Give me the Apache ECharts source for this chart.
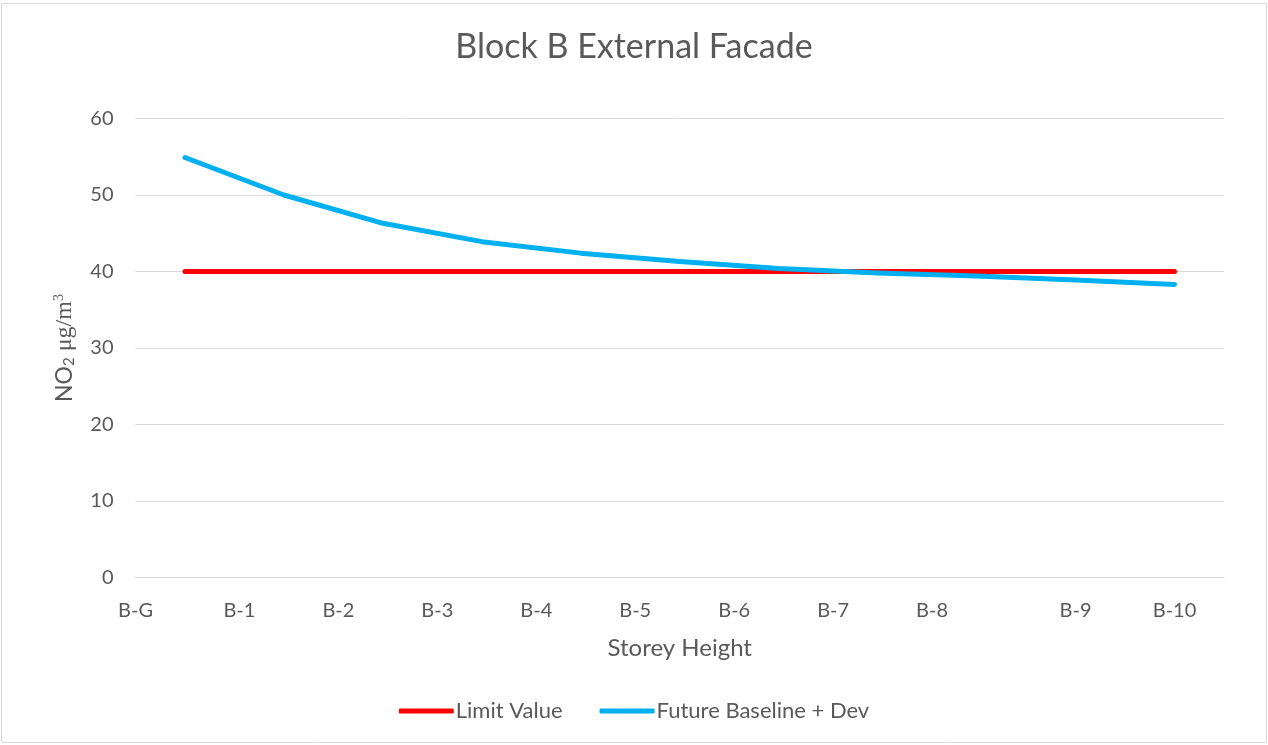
<!DOCTYPE html>
<html>
<head>
<meta charset="utf-8">
<title>Block B External Facade</title>
<script src="https://cdn.jsdelivr.net/npm/echarts@6/dist/echarts.min.js"></script>
<style>
  html, body { margin: 0; padding: 0; background: #ffffff; }
  #chart { width: 1268px; height: 745px; }
</style>
</head>
<body>
<div id="chart"></div>
<script>
// Storey tick labels and where each sits along the x axis
const storeyLabels = ['B-G', 'B-1', 'B-2', 'B-3', 'B-4', 'B-5', 'B-6', 'B-7', 'B-8', 'B-9', 'B-10'];
const storeyLabelAt = [-0.5, 0.55, 1.55, 2.55, 3.55, 4.55, 5.55, 6.55, 7.55, 9, 10];

// Measurement points (x positions) and NO2 concentrations (µg/m³)
const pointIndex = [0, 1, 2, 3, 4, 5, 6, 7, 8, 9, 10];
const limitValue = [40, 40, 40, 40, 40, 40, 40, 40, 40, 40, 40];
const futureBaselineDev = [54.9, 50.0, 46.3, 43.9, 42.4, 41.3, 40.4, 39.8, 39.4, 38.9, 38.3];

const textColor = '#595959';
const gridColor = '#d9d9d9';
const sans = 'Lato, "Noto Sans", sans-serif';
const serif = '"Liberation Serif", "DejaVu Serif", serif';

function pairs(xs, ys) {
  return xs.map((x, i) => [x, ys[i]]);
}

const chart = echarts.init(document.getElementById('chart'), null, { renderer: 'canvas' });

chart.setOption({
  backgroundColor: '#ffffff',
  animation: false,
  title: {
    text: 'Block B External Facade',
    left: 'center',
    top: 25,
    textStyle: { color: textColor, fontFamily: sans, fontSize: 34, fontWeight: 'normal' }
  },
  legend: {
    bottom: 18,
    left: 'center',
    icon: 'roundRect',
    itemWidth: 55,
    itemHeight: 5,
    itemGap: 37,
    textStyle: { color: textColor, fontFamily: sans, fontSize: 22, padding: [0, 0, 0, -3] },
    data: ['Limit Value', 'Future Baseline + Dev']
  },
  grid: { left: 135.5, right: 44, top: 118.5, bottom: 167.5, containLabel: false },
  xAxis: {
    type: 'value',
    min: -0.5,
    max: 10.5,
    interval: 0.05,
    name: 'Storey Height',
    nameLocation: 'middle',
    nameGap: 59,
    nameTextStyle: { color: textColor, fontFamily: sans, fontSize: 24 },
    axisLine: { show: true, lineStyle: { color: gridColor, width: 1 } },
    axisTick: { show: false },
    splitLine: { show: false },
    axisLabel: {
      color: textColor,
      fontFamily: sans,
      fontSize: 20,
      margin: 23,
      showMinLabel: true,
      showMaxLabel: true,
      formatter: function (v) {
        const i = storeyLabelAt.findIndex(p => Math.abs(p - v) < 0.01);
        return i >= 0 ? storeyLabels[i] : '';
      }
    }
  },
  yAxis: {
    type: 'value',
    min: 0,
    max: 60,
    interval: 10,
    name: '{n|NO}{s|2}{u| μg/m}{p|3}',
    nameLocation: 'middle',
    nameRotate: 90,
    nameGap: 52,
    nameTextStyle: {
      color: textColor,
      rich: {
        n: { fontFamily: sans, fontSize: 23, color: textColor, lineHeight: 30 },
        s: { fontFamily: sans, fontSize: 15, color: textColor, lineHeight: 30, verticalAlign: 'bottom', padding: [0, 0, 3, 0] },
        u: { fontFamily: serif, fontSize: 24, color: textColor, lineHeight: 30 },
        p: { fontFamily: serif, fontSize: 14, color: textColor, lineHeight: 30, verticalAlign: 'top', padding: [3, 0, 0, 0] }
      }
    },
    axisLine: { show: false },
    axisTick: { show: false },
    splitLine: { show: true, lineStyle: { color: gridColor, width: 1 } },
    axisLabel: { color: textColor, fontFamily: sans, fontSize: 20, margin: 22 }
  },
  series: [
    {
      name: 'Limit Value',
      type: 'line',
      data: pairs(pointIndex, limitValue),
      showSymbol: false,
      symbol: 'none',
      color: '#ff0000',
      lineStyle: { color: '#ff0000', width: 5, cap: 'round', join: 'round' },
      z: 2
    },
    {
      name: 'Future Baseline + Dev',
      type: 'line',
      data: pairs(pointIndex, futureBaselineDev),
      showSymbol: false,
      symbol: 'none',
      color: '#00b0f0',
      lineStyle: { color: '#00b0f0', width: 5, cap: 'round', join: 'round' },
      z: 3
    }
  ],
  graphic: [
    {
      type: 'rect',
      silent: true,
      shape: { x: 1.5, y: 3.5, width: 1265, height: 739 },
      style: { fill: 'none', stroke: gridColor, lineWidth: 1 }
    }
  ]
});
</script>
</body>
</html>
